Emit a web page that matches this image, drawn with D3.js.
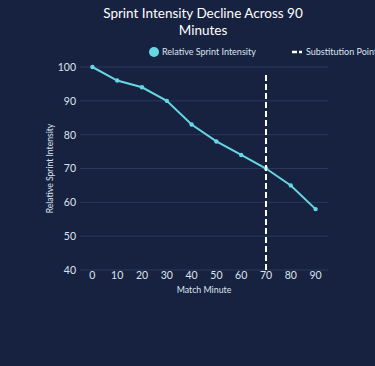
<!DOCTYPE html>
<html><head><meta charset="utf-8">
<script src="https://cdn.jsdelivr.net/npm/d3@7"></script>
<style>
html,body{margin:0;padding:0;background:#172240;}
svg{display:block;font-family:Lato,"Noto Sans",sans-serif;}
</style></head>
<body>
<svg id="c" width="375" height="366"></svg>
<script>
const minutes = [0,10,20,30,40,50,60,70,80,90];
const intensity = [100,96,94,90,83,78,74,70,65,58];
const yTicks = [40,50,60,70,80,90,100];
const substitutionMinute = 70;
const substitutionRange = [40,98];

const W=375,H=366;
const FONT="Lato,'Noto Sans',sans-serif";
const m={l:80,r:47,t:67,b:96};
const svg=d3.select("#c");
svg.append("rect").attr("width",W).attr("height",H).attr("fill","#172240");
const x=d3.scaleBand().domain(minutes).range([m.l,W-m.r]);
const xc=v=>x(v)+x.bandwidth()/2;
const y=d3.scaleLinear().domain([40,100]).range([270,67]);

// grid
svg.append("g").selectAll("line").data(yTicks).join("line")
 .attr("x1",m.l).attr("x2",W-m.r).attr("y1",d=>y(d)).attr("y2",d=>y(d))
 .attr("stroke","#2b3858").attr("stroke-width",1);

// y axis
const ya=svg.append("g").attr("transform",`translate(${m.l},0)`).call(d3.axisLeft(y).tickValues(yTicks).tickSize(0).tickPadding(4));
ya.select(".domain").remove();
ya.selectAll("text").attr("fill","#dde2ee").attr("font-size",10.5).attr("font-family",FONT);

// x axis
const xa=svg.append("g").attr("transform",`translate(0,270)`).call(d3.axisBottom(x).tickSize(0).tickPadding(2));
xa.select(".domain").remove();
xa.selectAll("text").attr("fill","#dde2ee").attr("font-size",10.5).attr("font-family",FONT);

// axis titles
svg.append("text").attr("x",(m.l+W-m.r)/2).attr("y",293).attr("text-anchor","middle")
 .attr("fill","#dde2ee").attr("font-size",8.8).text("Match Minute");
svg.append("text").attr("transform",`translate(53,${(67+270)/2}) rotate(-90)`).attr("text-anchor","middle")
 .attr("fill","#dde2ee").attr("font-size",8.6).text("Relative Sprint Intensity");

// line
const lineColor="#66d6e2";
const data=minutes.map((d,i)=>({m:d,v:intensity[i]}));
svg.append("path").datum(data).attr("fill","none").attr("stroke",lineColor).attr("stroke-width",2)
 .attr("d",d3.line().x(d=>xc(d.m)).y(d=>y(d.v)));
svg.append("g").selectAll("circle").data(data).join("circle")
 .attr("cx",d=>xc(d.m)).attr("cy",d=>y(d.v)).attr("r",2.2).attr("fill",lineColor);

// substitution line
svg.append("line").attr("x1",xc(substitutionMinute)).attr("x2",xc(substitutionMinute))
 .attr("y1",y(substitutionRange[0])).attr("y2",y(substitutionRange[1]))
 .attr("stroke","#ffffff").attr("stroke-width",2).attr("stroke-dasharray","6,3");

// title
const t=svg.append("text").attr("text-anchor","middle").attr("fill","#ffffff").attr("font-size",13.5);
t.append("tspan").attr("x",203).attr("y",18).text("Sprint Intensity Decline Across 90");
t.append("tspan").attr("x",203).attr("y",35).text("Minutes");

// legend
svg.append("circle").attr("cx",154).attr("cy",52).attr("r",5).attr("fill",lineColor);
svg.append("text").attr("x",162).attr("y",55).attr("fill","#dde2ee").attr("font-size",9).text("Relative Sprint Intensity");
svg.append("line").attr("x1",292).attr("x2",302).attr("y1",52).attr("y2",52)
 .attr("stroke","#fff").attr("stroke-width",2.5).attr("stroke-dasharray","5,2");
svg.append("text").attr("x",306).attr("y",55).attr("fill","#dde2ee").attr("font-size",9).text("Substitution Point");
</script>
</body></html>
